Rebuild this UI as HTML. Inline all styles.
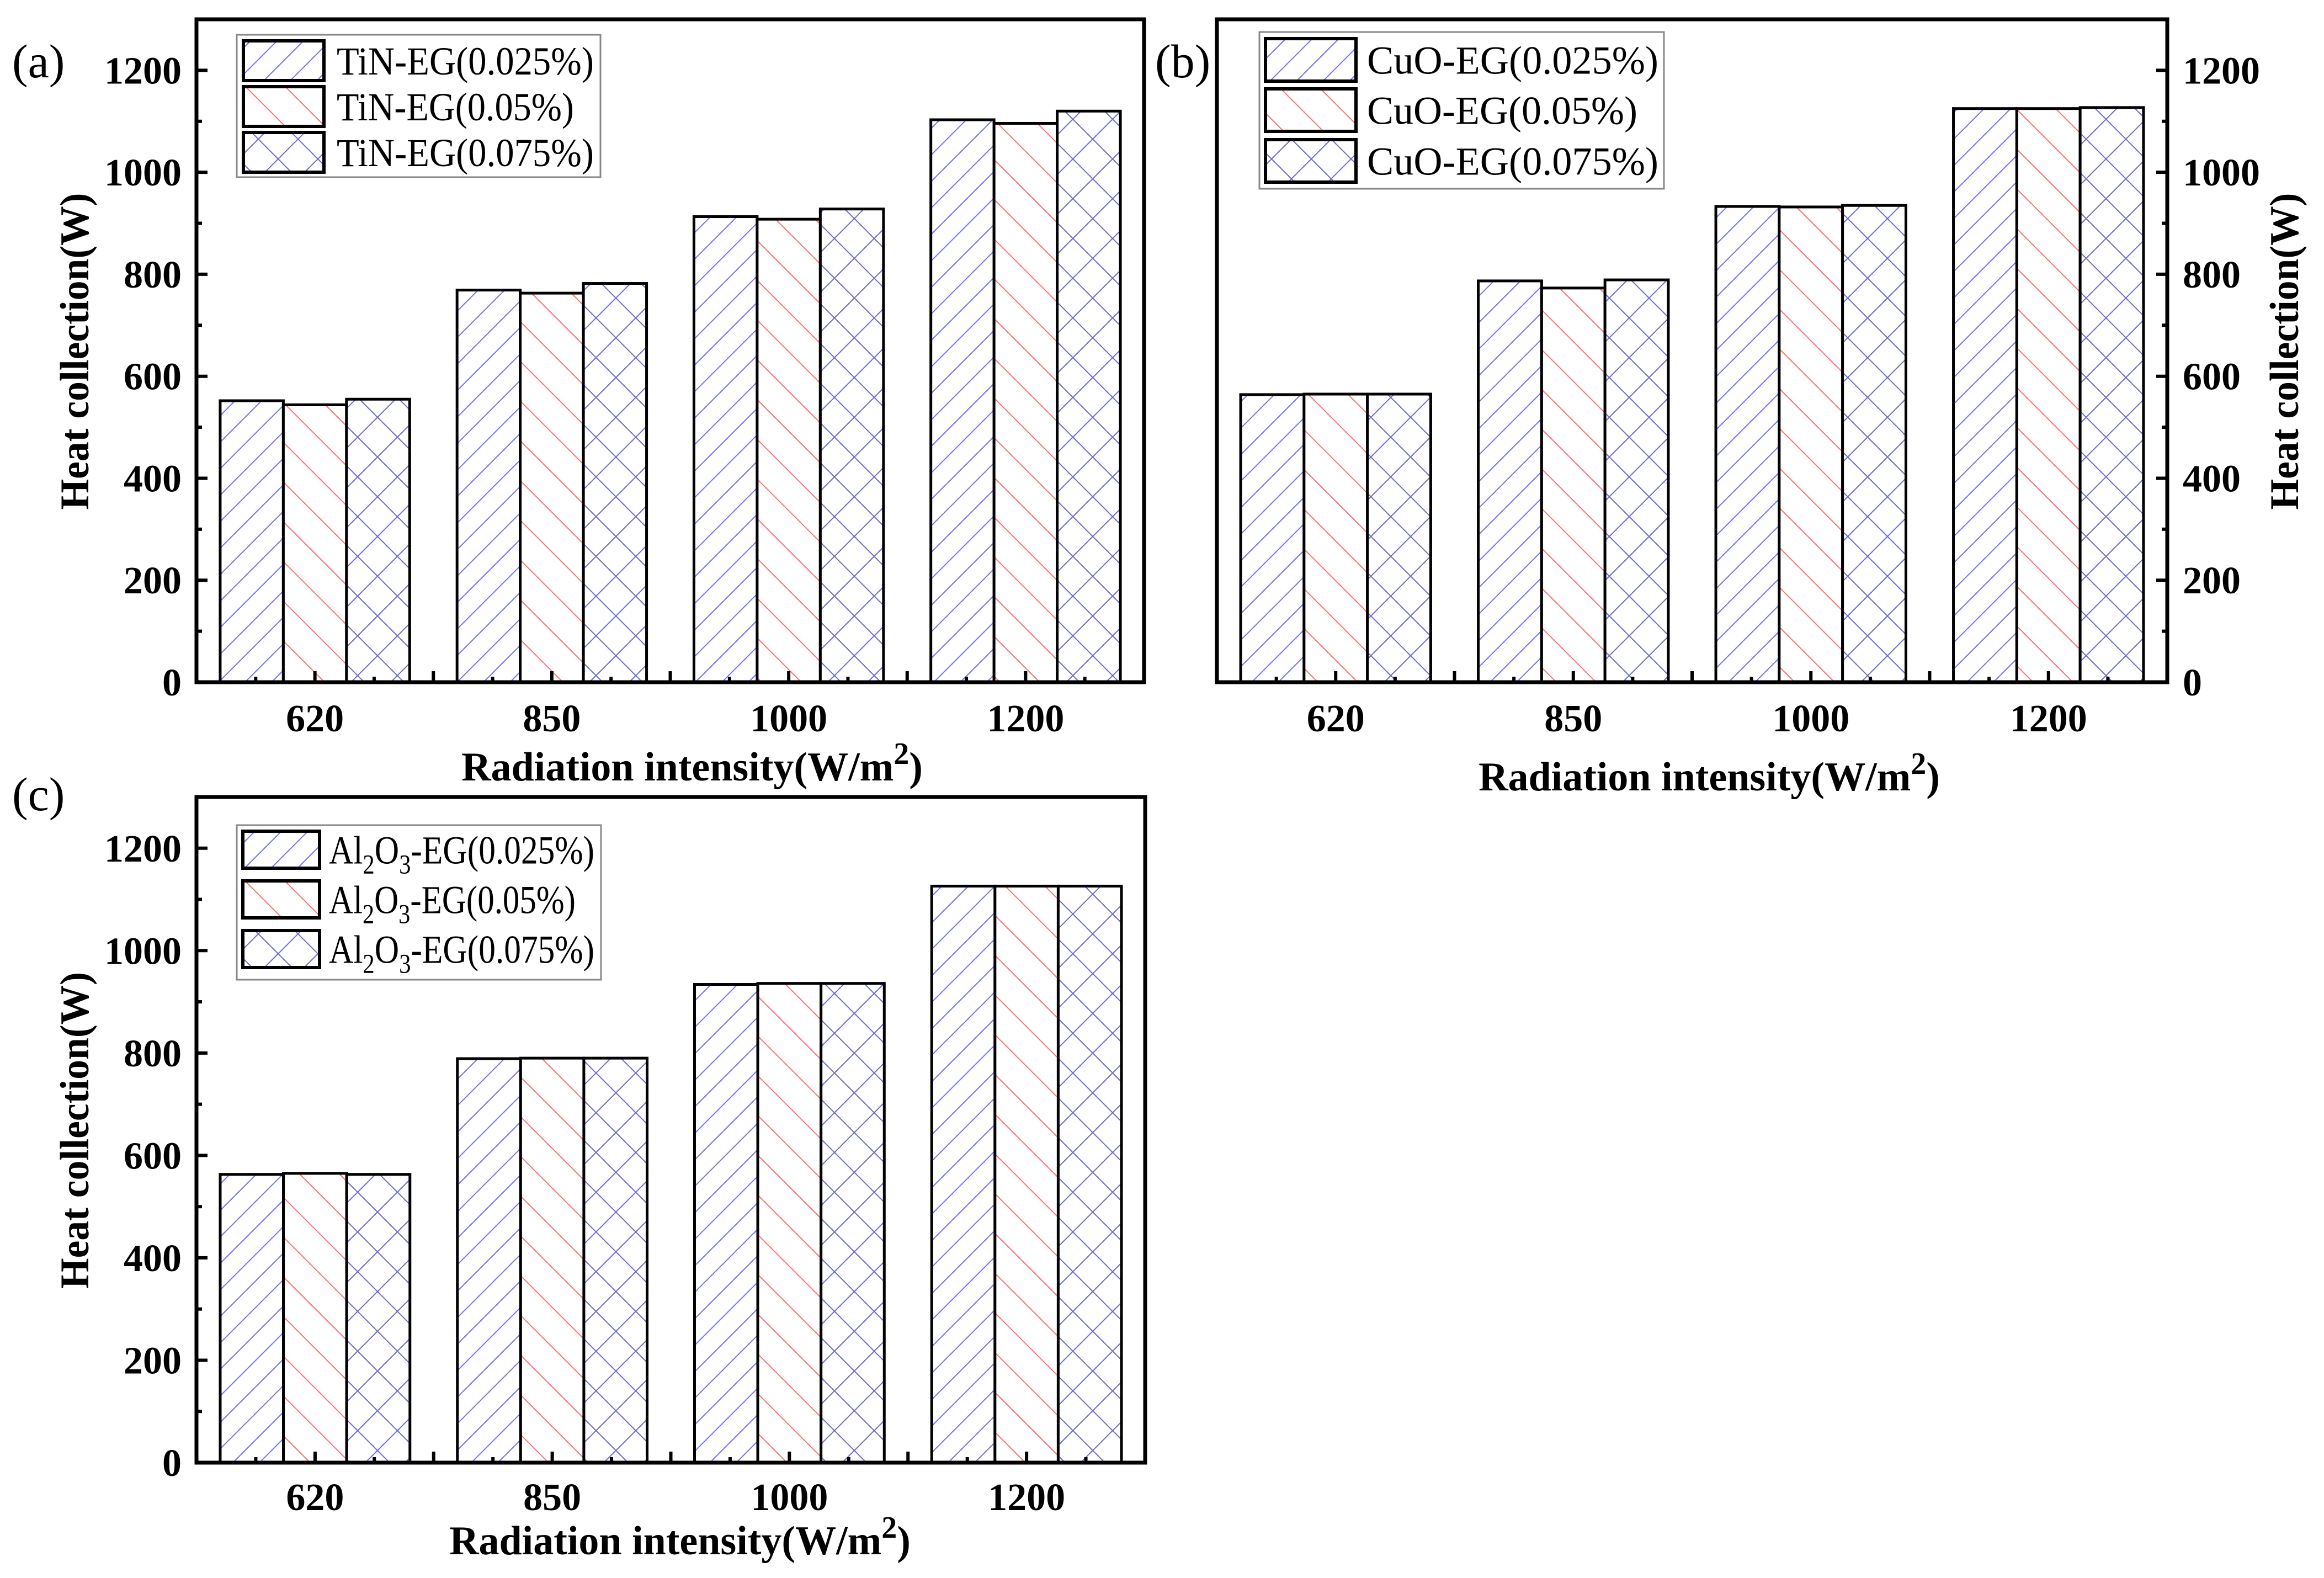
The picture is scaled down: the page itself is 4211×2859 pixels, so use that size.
<!DOCTYPE html>
<html><head><meta charset="utf-8"><title>Heat collection charts</title>
<style>
html,body{margin:0;padding:0;background:#fff;}
svg{display:block;}
text{font-family:"Liberation Serif",serif;fill:#000;}
</style></head>
<body>
<svg id="fig" width="4211" height="2859" viewBox="0 0 4211 2859" xmlns="http://www.w3.org/2000/svg">
<defs>
<pattern id="hatchA" patternUnits="userSpaceOnUse" width="48" height="48">
<path d="M-12,12 L12,-12 M0,48 L48,0 M36,60 L60,36" stroke="#7070ff" stroke-width="2"/>
</pattern>
<pattern id="hatchB" patternUnits="userSpaceOnUse" width="72" height="72">
<path d="M-18,-18 L90,90 M-18,54 L18,90 M54,-18 L90,18" stroke="#ff7070" stroke-width="2"/>
</pattern>
<pattern id="hatchC" patternUnits="userSpaceOnUse" width="72" height="72">
<path d="M-18,-18 L90,90 M-18,54 L18,90 M54,-18 L90,18 M-18,90 L90,-18 M-18,18 L18,-18 M54,90 L90,54" stroke="#6a6ad0" stroke-width="2"/>
</pattern>
</defs>
</svg>
<script>
// ---- data ----
const categories = ["620", "850", "1000", "1200"];
const yTicks = [0, 200, 400, 600, 800, 1000, 1200];
const tinSeries1 = [552, 769, 913, 1103];
const tinSeries2 = [544, 763, 908, 1096];
const tinSeries3 = [555, 782, 928, 1120];
const cuoSeries1 = [564, 787, 933, 1125];
const cuoSeries2 = [565, 773, 932, 1125];
const cuoSeries3 = [565, 789, 935, 1127];
const alSeries1 = [563, 789, 934, 1126];
const alSeries2 = [565, 790, 936, 1126];
const alSeries3 = [563, 790, 936, 1126];
const tinLabels = ["TiN-EG(0.025%)", "TiN-EG(0.05%)", "TiN-EG(0.075%)"];
const cuoLabels = ["CuO-EG(0.025%)", "CuO-EG(0.05%)", "CuO-EG(0.075%)"];
const alLabels = ["(0.025%)", "(0.05%)", "(0.075%)"];
const yMax = 1300;

const NS = "http://www.w3.org/2000/svg";
const svg = document.getElementById("fig");
function mk(tag, attrs, parent, txt) {
  const e = document.createElementNS(NS, tag);
  for (const k in attrs) e.setAttribute(k, attrs[k]);
  if (txt !== undefined) e.textContent = txt;
  (parent || svg).appendChild(e);
  return e;
}
const fills = ["url(#hatchA)", "url(#hatchB)", "url(#hatchC)"];

function panel(cfg) {
  const g = mk("g", {});
  
  
  const L = cfg.L, R = cfg.R, T = cfg.T, B = cfg.B;
  const band = (R - L) / categories.length;
  const barW = band * 0.8 / 3;
  const xC = i => L + band * (i + 0.5);
  const yS = v => B - v / yMax * (B - T);

  cfg.series.forEach((ser, s) => {
    ser.forEach((v, i) => {
      const x = xC(i) - band * 0.4 + s * barW;
      const r = mk("rect", {x: x, y: yS(v), width: barW, height: B - yS(v), fill: "#fff"}, g);
      
      
      const r2 = mk("rect", {x: x, y: yS(v), width: barW, height: B - yS(v), fill: fills[s], stroke: "#000", "stroke-width": 5}, g);
      
      
    });
  });

  const fr = mk("rect", {x: L, y: T, width: R - L, height: B - T, fill: "none", stroke: "#000", "stroke-width": 7}, g);
  
  

  for (let k = 0; k <= categories.length * 4; k++) {
    const x = L + band * k / 4;
    const len = (k % 2 === 0) ? 20 : 10;
    mk("line", {x1: x, y1: B, x2: x, y2: B - len, stroke: "#000", "stroke-width": 6}, g);
  }
  categories.forEach((c, i) => {
    const t = mk("text", {x: xC(i), y: cfg.xLabY, "text-anchor": "middle", "font-size": 70, "font-weight": "bold"}, g, c);
    
    
  });

  const ax = cfg.right ? R : L;
  const dir = cfg.right ? -1 : 1;
  for (let v = 0; v <= 1300; v += 100) {
    const y = yS(v);
    const len = (v % 200 === 0) ? 20 : 10;
    mk("line", {x1: ax, y1: y, x2: ax + dir * len, y2: y, stroke: "#000", "stroke-width": 6}, g);
  }
  yTicks.forEach(v => {
    const t = mk("text", {x: cfg.right ? R + 28 : L - 27, y: yS(v) + 24, "text-anchor": cfg.right ? "start" : "end", "font-size": 70, "font-weight": "bold"}, g, String(v));
    
    
  });

  const yt = mk("text", {x: 0, y: 0, transform: "translate(" + cfg.yTitleX + "," + ((T + B) / 2 + 1) + ") rotate(-90)", "text-anchor": "middle", "font-size": 74, "font-weight": "bold", textLength: 574, lengthAdjust: "spacingAndGlyphs"}, g, "Heat collection(W)");
  
  

  const xt = mk("text", {x: cfg.xTitleX, y: cfg.xTitleY, "text-anchor": "middle", "font-size": 74, "font-weight": "bold"}, g);
  
  
  mk("tspan", {}, xt, "Radiation intensity(W/m");
  mk("tspan", {dy: -30, "font-size": 56}, xt, "2");
  mk("tspan", {dy: 30}, xt, ")");

  const pl = mk("text", {x: cfg.plX, y: cfg.plY, "font-size": 86}, g, cfg.pl);
  
  

  const lg = cfg.leg;
  const lgG = mk("g", {}, g);
  
  
  mk("rect", {x: lg.x, y: lg.y, width: lg.w, height: lg.h, fill: "#fff", stroke: "#888", "stroke-width": 3}, lgG);
  lg.rows.forEach((ry, s) => {
    const eg = mk("g", {}, lgG);
    
    
    mk("rect", {x: lg.sx, y: ry, width: lg.sw, height: lg.sh, fill: "#fff"}, eg);
    mk("rect", {x: lg.sx, y: ry, width: lg.sw, height: lg.sh, fill: fills[s], stroke: "#000", "stroke-width": 6}, eg);
    const ty = ry + lg.sh / 2 + 25;
    if (cfg.al) {
      const t = mk("text", {x: lg.tx, y: ty, "font-size": 72, textLength: lg.tl[s], lengthAdjust: "spacingAndGlyphs"}, eg);
      mk("tspan", {}, t, "Al");
      mk("tspan", {dy: 18, "font-size": 50}, t, "2");
      mk("tspan", {dy: -18}, t, "O");
      mk("tspan", {dy: 18, "font-size": 50}, t, "3");
      mk("tspan", {dy: -18}, t, "-EG" + cfg.labels[s]);
    } else {
      mk("text", {x: lg.tx, y: ty, "font-size": 72, textLength: lg.tl[s], lengthAdjust: "spacingAndGlyphs"}, eg, cfg.labels[s]);
    }
  });
}

panel({name: "panel-a-tin", L: 356, R: 2073, T: 35, B: 1236, series: [tinSeries1, tinSeries2, tinSeries3], labels: tinLabels,
  xLabY: 1325, xTitleX: 1254, xTitleY: 1414, yTitleX: 160, plX: 22, plY: 140, pl: "(a)",
  leg: {x: 429, y: 63, w: 659, h: 258, sx: 441, sw: 146, sh: 72, rows: [74, 157, 240], tx: 610, tl: [466, 430, 466]}});

panel({name: "panel-b-cuo", L: 2205, R: 3927, T: 35, B: 1236, right: true, series: [cuoSeries1, cuoSeries2, cuoSeries3], labels: cuoLabels,
  xLabY: 1325, xTitleX: 3097, xTitleY: 1432, yTitleX: 4164, plX: 2093, plY: 140, pl: "(b)",
  leg: {x: 2282, y: 58, w: 733, h: 284, sx: 2293, sw: 164, sh: 77, rows: [70, 161, 253], tx: 2477, tl: [528, 490, 528]}});

panel({name: "panel-c-al2o3", L: 356, R: 2075, T: 1444, B: 2650, series: [alSeries1, alSeries2, alSeries3], labels: alLabels, al: true,
  xLabY: 2736, xTitleX: 1232, xTitleY: 2816, yTitleX: 160, plX: 22, plY: 1468, pl: "(c)",
  leg: {x: 429, y: 1495, w: 660, h: 280, sx: 440, sw: 139, sh: 67, rows: [1506, 1596, 1686], tx: 596, tl: [481, 447, 481]}});
</script>
</body></html>
